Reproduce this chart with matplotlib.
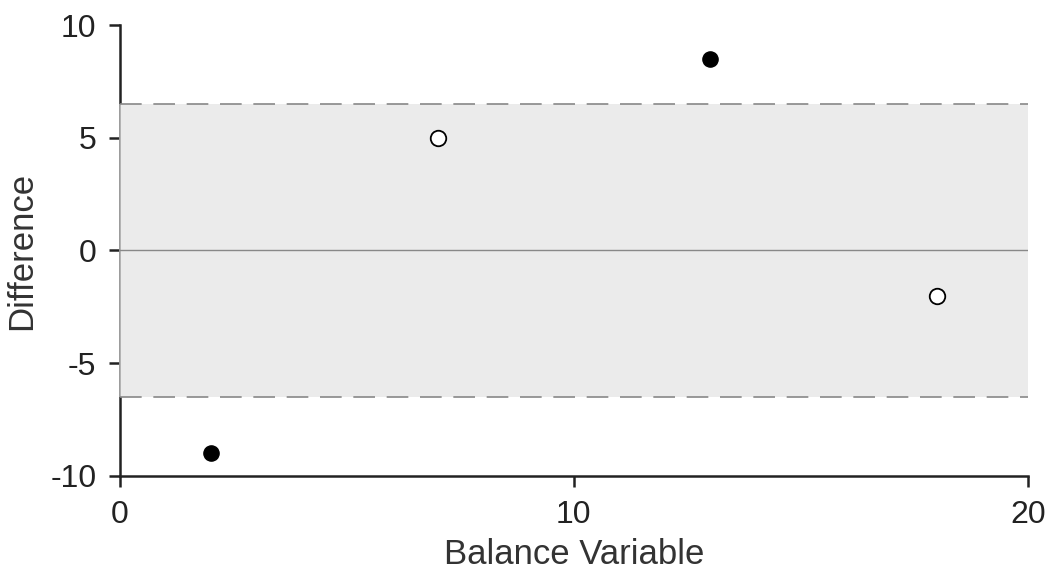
import matplotlib.pyplot as plt

# balance variable vs difference, two groups
x_filled = [2, 13]
y_filled = [-9, 8.5]
x_open = [7, 18]
y_open = [5, -2]

band_lo, band_hi = -6.5, 6.5
x_ticks = [0, 10, 20]
y_ticks = [-10, -5, 0, 5, 10]

plt.rcParams["font.family"] = ["Liberation Sans", "DejaVu Sans"]
plt.rcParams["axes.unicode_minus"] = False

fig = plt.figure(figsize=(10.52, 5.71), dpi=100)
ax = fig.add_axes([0.114, 0.1664, 0.863, 0.7898])

ax.set_xlim(0, 20)
ax.set_ylim(-10, 10)

# tolerance band
ax.axhspan(band_lo, band_hi, color="#ebebeb", lw=0, zorder=3)
ax.plot([0, 0], [band_lo, band_hi], color="#aaaaaa", lw=1.2, zorder=3.1,
        clip_on=False, solid_capstyle="butt")
for yv in (band_lo, band_hi):
    ax.axhline(yv, color="#888888", lw=1.2, ls=(0, (13, 7)), zorder=3.2)
ax.axhline(0, color="#888888", lw=1.0, zorder=3.2)

ax.scatter(x_filled, y_filled, s=120, color="black", zorder=5)
ax.scatter(x_open, y_open, s=125, facecolors="white", edgecolors="black",
           linewidths=1.3, zorder=5)

for side in ("top", "right"):
    ax.spines[side].set_visible(False)
for side in ("left", "bottom"):
    ax.spines[side].set_color("#222222")
    ax.spines[side].set_linewidth(1.8)

ax.set_xticks(x_ticks)
ax.set_yticks(y_ticks)
ax.tick_params(length=8, width=1.8, color="#222222", labelsize=23,
               labelcolor="#222222", pad=9)
ax.set_xlabel("Balance Variable", fontsize=25, color="#333333", labelpad=6)
ax.set_ylabel("Difference", fontsize=25, color="#333333", labelpad=9)

fig.savefig("out.png", dpi=100)
